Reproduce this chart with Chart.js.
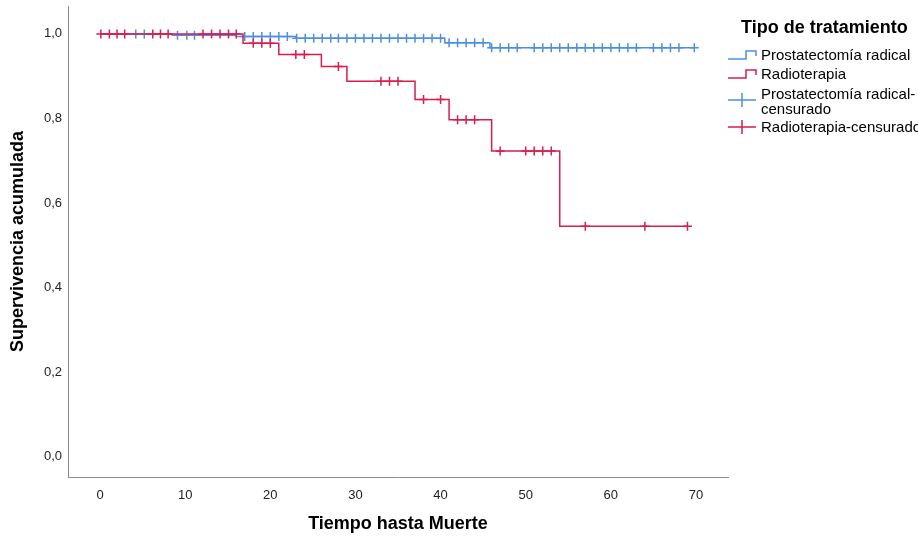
<!DOCTYPE html>
<html>
<head>
<meta charset="utf-8">
<script src="https://cdn.jsdelivr.net/npm/chart.js@4.4.1/dist/chart.umd.min.js"></script>
<style>
  html, body { margin: 0; padding: 0; background: #fff; }
  #wrap { position: relative; width: 918px; height: 537px; }
  canvas { position: absolute; left: 0; top: 0; }
  .lg { position: absolute; font-family: 'Liberation Sans', Arial, sans-serif; color: #000; white-space: nowrap; }
  .lgt { font-weight: bold; font-size: 18px; }
  .lgi { font-size: 15px; line-height: 15px; }
  svg.ic { position: absolute; }
</style>
</head>
<body>
<div id="wrap">
  <canvas id="c" width="918" height="537"></canvas>
  <div class="lg lgt" style="left:741px; top:17px;">Tipo de tratamiento</div>
  <svg class="ic" style="left:728px; top:48px;" width="30" height="14"><path d="M0,11 H18 V3 H28 V8" fill="none" stroke="#4d8fe3" stroke-width="1.5"/></svg>
  <div class="lg lgi" style="left:761px; top:47px;">Prostatectomía radical</div>
  <svg class="ic" style="left:728px; top:67px;" width="30" height="14"><path d="M0,11 H18 V3 H28 V8" fill="none" stroke="#d81e4e" stroke-width="1.5"/></svg>
  <div class="lg lgi" style="left:761px; top:66px;">Radioterapia</div>
  <svg class="ic" style="left:728px; top:92px;" width="30" height="16"><path d="M0,8 H28 M14,1 V15" fill="none" stroke="#4d8fe3" stroke-width="1.5"/></svg>
  <div class="lg lgi" style="left:761px; top:86px;">Prostatectomía radical-</div>
  <div class="lg lgi" style="left:761px; top:101px;">censurado</div>
  <svg class="ic" style="left:728px; top:119px;" width="30" height="16"><path d="M0,8 H28 M14,1 V15" fill="none" stroke="#d81e4e" stroke-width="1.5"/></svg>
  <div class="lg lgi" style="left:761px; top:119px;">Radioterapia-censurado</div>
</div>
<script>
// ---- Data ----
const xTicks = [0, 10, 20, 30, 40, 50, 60, 70];
const yTicks = [0, 0.2, 0.4, 0.6, 0.8, 1.0];

// Prostatectomía radical (blue)
const blueEventTimes = [8.5, 16, 23, 40.5, 45.8];
const blueSurvival   = [0.997, 0.994, 0.990, 0.979, 0.967];
const blueEndTime = 69.8;
const blueCensorTimes = [4.2, 5.2, 9.1, 10.2, 11.1, 17, 18, 19, 20, 21, 22,
  23.1, 24.1, 25.1, 26.1, 27.1, 28, 29, 30, 31, 32, 33, 34, 35, 36, 37, 38, 39, 40,
  41, 42, 43, 44, 45, 46, 47, 48, 49, 51, 52, 53, 54, 55, 56, 57, 58, 59, 60, 61, 62, 63,
  65, 66, 67, 68, 69.8];

// Radioterapia (red)
const redEventTimes = [16.8, 21, 26, 29, 37, 41, 46, 54];
const redSurvival   = [0.978, 0.951, 0.923, 0.888, 0.845, 0.797, 0.723, 0.545];
const redEndTime = 69;
const redCensorTimes = [0.1, 1.1, 2, 2.9, 6.2, 7.1, 8, 12.1, 13.1, 14.1, 15.1, 16,
  18, 19, 20, 23, 24, 28, 33, 34, 35, 38, 40, 42, 43, 44, 47, 50, 51, 52, 53, 57, 64, 69];

const BLUE = '#4d8fe3';
const RED = '#d81e4e';

function stepLine(times, surv, endT) {
  const pts = [{x: 0, y: 1}];
  times.forEach((t, i) => pts.push({x: t, y: surv[i]}));
  pts.push({x: endT, y: surv[surv.length - 1]});
  return pts;
}
function survAt(times, surv, t) {
  let s = 1;
  times.forEach((et, i) => { if (et <= t) s = surv[i]; });
  return s;
}
function censorPts(ct, times, surv) {
  return ct.map(t => ({x: t, y: survAt(times, surv, t)}));
}

const tickFont = {family: "'Liberation Sans Narrow', 'Liberation Sans', Arial, sans-serif", size: 13};
const titleFont = {family: "'Liberation Sans', Arial, sans-serif", size: 18, weight: 'bold'};

new Chart(document.getElementById('c'), {
  type: 'line',
  data: {
    datasets: [
      {label: 'Prostatectomía radical', data: stepLine(blueEventTimes, blueSurvival, blueEndTime),
        borderColor: BLUE, borderWidth: 1.5, stepped: 'before', pointRadius: 0, fill: false, order: 4},
      {label: 'Prostatectomía radical-censurado', data: censorPts(blueCensorTimes, blueEventTimes, blueSurvival),
        showLine: false, pointStyle: 'cross', pointRadius: 4.5, borderColor: BLUE, borderWidth: 1.5, order: 3},
      {label: 'Radioterapia', data: stepLine(redEventTimes, redSurvival, redEndTime),
        borderColor: RED, borderWidth: 1.5, stepped: 'before', pointRadius: 0, fill: false, order: 2},
      {label: 'Radioterapia-censurado', data: censorPts(redCensorTimes, redEventTimes, redSurvival),
        showLine: false, pointStyle: 'cross', pointRadius: 4.5, borderColor: RED, borderWidth: 1.5, order: 1}
    ]
  },
  options: {
    responsive: false,
    animation: false,
    devicePixelRatio: 1,
    layout: {padding: {top: 5, right: 190, left: 0, bottom: 0}},
    plugins: {legend: {display: false}, tooltip: {enabled: false}},
    elements: {point: {hoverRadius: 4.5}},
    scales: {
      x: {
        type: 'linear', min: -3.76, max: 73.76,
        afterBuildTicks: s => { s.ticks = xTicks.map(v => ({value: v})); },
        afterFit: s => { s.height = 60; s.paddingLeft = 0; s.paddingRight = 0; },
        grid: {display: false, drawTicks: false},
        border: {display: true, color: '#8c8c8c', width: 1},
        ticks: {font: tickFont, color: '#222', padding: 11, maxRotation: 0, autoSkip: false},
        title: {display: true, text: 'Tiempo hasta Muerte', font: titleFont, color: '#000', padding: {top: 0, bottom: 2}}
      },
      y: {
        type: 'linear', min: -0.048, max: 1.066,
        afterBuildTicks: s => { s.ticks = yTicks.map(v => ({value: v})); },
        afterFit: s => { s.width = 68; s.paddingTop = 0; s.paddingBottom = 0; },
        grid: {display: false, drawTicks: false},
        border: {display: true, color: '#8c8c8c', width: 1},
        ticks: {font: tickFont, color: '#222', padding: 6, autoSkip: false,
          callback: v => v.toFixed(1).replace('.', ',')},
        title: {display: true, text: 'Supervivencia acumulada', font: titleFont, color: '#000', padding: {top: 7, bottom: 0}}
      }
    }
  }
});
</script>
</body>
</html>
